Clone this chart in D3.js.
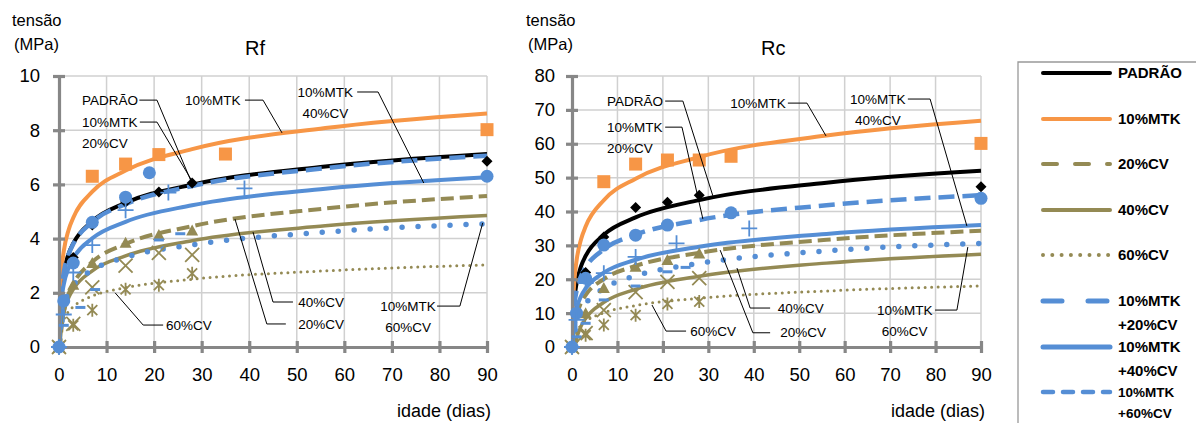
<!DOCTYPE html>
<html>
<head>
<meta charset="utf-8">
<script src="https://cdn.jsdelivr.net/npm/d3@7/dist/d3.min.js"></script>
<style>
  body { margin: 0; background: #fff; }
  svg { display: block; font-family: "Liberation Sans", Arial, sans-serif; }
</style>
</head>
<body>
<script>
// series, in legend order
const seriesNames = ["PADRÃO", "10%MTK", "20%CV", "40%CV", "60%CV", "10%MTK +20%CV", "10%MTK +40%CV", "10%MTK +60%CV"];

const dayTicks = [0, 10, 20, 30, 40, 50, 60, 70, 80, 90];
const rfTicks = [0, 2, 4, 6, 8, 10];
const rcTicks = [0, 10, 20, 30, 40, 50, 60, 70, 80];

// measured points [day, MPa]
const rfPoints = [
  [[0, 0], [3, 3.3], [7, 4.5], [14, 5.35], [21, 5.72], [28, 6.05], [90, 6.85]],
  [[7, 6.3], [14, 6.75], [21, 7.1], [35, 7.12], [90, 8.02]],
  [[0, 0], [3, 2.3], [7, 3.1], [14, 3.85], [21, 4.13], [28, 4.3]],
  [[0, 0], [3, 0.85], [7, 2.2], [14, 3.0], [21, 3.47], [28, 3.4]],
  [[0, 0], [3, 0.8], [7, 1.36], [14, 2.13], [21, 2.28], [28, 2.72]],
  [[0, 0], [1, 1.7], [3, 3.1], [7, 4.6], [14, 5.53], [19, 6.43], [90, 6.3]],
  [[0, 0], [1, 1.2], [3, 2.75], [7, 3.76], [14, 5.05], [23, 5.7], [39, 5.85]],
  [[0, 0], [1, 0.8], [4.5, 1.46], [7.6, 2.12], [21, 3.95], [25.5, 4.18]]
];
const rcPoints = [
  [[0, 0], [3, 22], [7, 32.5], [14, 41.2], [21, 42.7], [28, 44.8], [90, 47.3]],
  [[7, 48.8], [14, 54], [21, 55.2], [28, 55.2], [35, 56.3], [90, 60.1]],
  [[0, 0], [3, 10], [7, 17.4], [14, 23.7], [21, 25.7], [28, 27.6]],
  [[0, 0], [3, 4.1], [7, 10.9], [14, 16.2], [21, 19.2], [28, 20.3]],
  [[0, 0], [3, 3.5], [7, 6.5], [14, 9.4], [21, 12.7], [28, 13.4]],
  [[0, 0], [1, 10], [3, 20.3], [7, 30.1], [14, 33], [21, 36], [35, 39.6], [90, 43.9]],
  [[0, 0], [1, 8], [3, 18.9], [7, 21.8], [14, 26.6], [23, 30.6], [39, 35]],
  [[0, 0], [1, 3], [3, 7], [7, 13.9], [14, 18], [21, 22.2], [25, 23.5]]
];

// trendline values read at these days
const trendDays = [0.05, 0.2, 0.5, 1, 2, 3, 7, 14, 28, 56, 90];
const rfTrend = [
  [-0.16, 1.19, 2.08, 2.76, 3.43, 3.82, 4.64, 5.32, 5.99, 6.66, 7.12],
  [0.14, 1.71, 2.75, 3.53, 4.31, 4.77, 5.73, 6.51, 7.30, 8.08, 8.62],
  [-1.56, -0.24, 0.63, 1.29, 1.95, 2.33, 3.14, 3.80, 4.46, 5.11, 5.57],
  [-1.15, -0.04, 0.70, 1.25, 1.80, 2.13, 2.81, 3.36, 3.92, 4.47, 4.85],
  [-0.35, 0.28, 0.69, 1.0, 1.31, 1.49, 1.88, 2.19, 2.50, 2.81, 3.03],
  [-0.14, 1.19, 2.07, 2.74, 3.41, 3.80, 4.61, 5.27, 5.94, 6.60, 7.06],
  [-0.34, 0.88, 1.69, 2.30, 2.91, 3.27, 4.01, 4.62, 5.23, 5.84, 6.26],
  [-0.47, 0.46, 1.08, 1.54, 2.00, 2.28, 2.84, 3.31, 3.77, 4.24, 4.55]
];
const rcTrend = [
  [-3.42, 6.85, 13.63, 18.75, 23.87, 26.87, 33.13, 38.25, 43.37, 48.49, 52.01],
  [-2.12, 10.65, 19.08, 25.45, 31.82, 35.55, 43.33, 49.70, 56.07, 62.44, 66.81],
  [-7.54, 0.22, 5.33, 9.2, 13.07, 15.33, 20.06, 23.93, 27.79, 31.66, 34.31],
  [-14.44, -6.68, -1.57, 2.3, 6.17, 8.43, 13.16, 17.03, 20.89, 24.76, 27.41],
  [-5.17, -0.87, 1.96, 4.1, 6.24, 7.50, 10.11, 12.25, 14.40, 16.54, 18.01],
  [-2.21, 6.51, 12.25, 16.6, 20.95, 23.49, 28.80, 33.15, 37.49, 41.84, 44.82],
  [-5.25, 2.39, 7.44, 11.25, 15.06, 17.29, 21.95, 25.76, 29.58, 33.39, 36.0],
  [-9.07, -1.66, 3.23, 6.92, 10.61, 12.78, 17.29, 20.99, 24.68, 28.37, 30.6]
];

const olive = "#948A54", blue = "#558ED5", orange = "#F79646";
const styles = [
  {color: "#000", width: 4, marker: "diamond"},
  {color: orange, width: 4, marker: "square"},
  {color: olive, width: 4, dash: "13,6", legendDash: "14,18", marker: "triangle"},
  {color: olive, width: 3.5, marker: "x"},
  {color: olive, width: 3, dash: "0,6.5", cap: "round", legendDash: "0,9.3", marker: "asterisk"},
  {color: blue, width: 4.5, dash: "16,8", legendDash: "19,26", legendWidth: 5, marker: "circle"},
  {color: blue, width: 4, legendWidth: 5, marker: "plus"},
  {color: blue, width: 5.5, dash: "0,16", cap: "round", legendDash: "10,10", legendWidth: 4.5, marker: "dash"}
];

const markerPaths = {
  diamond: "M0,-5.5L5.5,0L0,5.5L-5.5,0Z",
  square: "M-6.5,-6.5h13v13h-13Z",
  triangle: "M0,-6L6,5L-6,5Z",
  plus: "M-8,0H8M0,-8V8",
  x: "M-7,-7L7,7M-7,7L7,-7",
  asterisk: "M-5,-5L5,5M-5,5L5,-5M0,-6.5V6.5",
  dash: "M-5,0H5"
};

const svg = d3.select("body").append("svg")
  .attr("width", 1196)
  .attr("height", 423);

function drawChart(cfg) {
  const x = d3.scaleLinear().domain([0, 90]).range([cfg.x0, cfg.x1]);
  const y = d3.scaleLinear().domain([0, cfg.ticks[cfg.ticks.length - 1]]).range([347, 76]);
  const g = svg.append("g");

  // grid
  g.selectAll(".vg").data(dayTicks.slice(1)).join("line")
    .attr("x1", d => x(d)).attr("x2", d => x(d))
    .attr("y1", y.range()[0]).attr("y2", y.range()[1])
    .attr("stroke", "#d0d0d0").attr("stroke-width", 1.5);
  g.selectAll(".hg").data(cfg.ticks.slice(1)).join("line")
    .attr("x1", cfg.x0).attr("x2", cfg.x1)
    .attr("y1", d => y(d)).attr("y2", d => y(d))
    .attr("stroke", "#d0d0d0").attr("stroke-width", 1.5);

  // trendlines
  const clipId = "clip" + cfg.id;
  svg.append("clipPath").attr("id", clipId).append("rect")
    .attr("x", cfg.x0).attr("y", 70).attr("width", cfg.x1 - cfg.x0 + 4).attr("height", 347 - 70);
  const line = d3.line().x(d => x(d[0])).y(d => y(d[1])).curve(d3.curveMonotoneX);
  g.append("g").attr("clip-path", `url(#${clipId})`)
    .selectAll("path").data(cfg.trend).join("path")
    .attr("d", vals => line(vals.map((v, i) => [trendDays[i], v])))
    .attr("fill", "none")
    .attr("stroke", (d, i) => styles[i].color)
    .attr("stroke-width", (d, i) => styles[i].width)
    .attr("stroke-dasharray", (d, i) => styles[i].dash || null)
    .attr("stroke-linecap", (d, i) => styles[i].cap || "butt");

  // axes
  const yAxis = g.append("g")
    .attr("transform", `translate(${cfg.x0},0)`)
    .call(d3.axisLeft(y).tickValues(cfg.ticks).tickSize(6).tickSizeOuter(0).tickPadding(cfg.yPad));
  const xAxis = g.append("g")
    .attr("transform", "translate(0,347)")
    .call(d3.axisBottom(x).tickValues(dayTicks).tickSize(6).tickSizeOuter(0).tickPadding(15));
  [xAxis, yAxis].forEach(a => {
    a.select(".domain").attr("stroke", "#878787").attr("stroke-width", 3.2);
    a.selectAll(".tick line").attr("stroke", "#878787").attr("stroke-width", 3.2);
    a.selectAll("text").attr("font-size", 18.5).attr("fill", "#000")
      .attr("font-family", "Liberation Sans, Arial, sans-serif");
  });
  yAxis.selectAll(".tick line").attr("x1", 6);
  xAxis.selectAll(".tick line").attr("y1", -6);

  // markers
  cfg.points.forEach((pts, i) => {
    const s = styles[i];
    const sel = g.append("g").selectAll("path").data(pts).join(s.marker === "circle" ? "circle" : "path");
    if (s.marker === "circle") {
      sel.attr("cx", d => x(d[0])).attr("cy", d => y(d[1])).attr("r", 6.5).attr("fill", s.color);
    } else {
      const stroked = ["plus", "x", "asterisk", "dash"].includes(s.marker);
      sel.attr("d", markerPaths[s.marker])
        .attr("transform", d => `translate(${x(d[0])},${y(d[1])})`)
        .attr("fill", stroked ? "none" : s.color)
        .attr("stroke", stroked ? s.color : "none")
        .attr("stroke-width", s.marker === "dash" ? 3 : 1.8);
    }
  });

  // callouts
  const leader = d3.line().x(d => x(d[0])).y(d => y(d[1]));
  cfg.notes.forEach(n => {
    g.append("path").attr("d", leader(n.path))
      .attr("fill", "none").attr("stroke", "#000").attr("stroke-width", 1);
    const t = g.append("text")
      .attr("x", x(n.at[0])).attr("y", y(n.at[1]))
      .attr("text-anchor", n.anchor)
      .attr("font-size", 13.5);
    n.text.forEach((s, k) => {
      t.append("tspan").attr("x", x(n.at[0])).attr("dy", k === 0 ? "0.35em" : 21).text(s);
    });
  });

  // titles
  svg.append("text").attr("x", cfg.titleX).attr("y", 55).attr("font-size", 20).text(cfg.title);
  svg.append("text").attr("x", cfg.yLabelX).attr("y", 26).attr("font-size", 16.5).text("tensão");
  svg.append("text").attr("x", cfg.yLabelX + 2).attr("y", 50).attr("font-size", 16.5).text("(MPa)");
  svg.append("text").attr("x", cfg.x1 + 4).attr("y", 417).attr("text-anchor", "end")
    .attr("font-size", 18).text("idade (dias)");
}

drawChart({
  id: "rf", x0: 59, x1: 487, ticks: rfTicks, yPad: 13, title: "Rf", titleX: 245, yLabelX: 12,
  trend: rfTrend, points: rfPoints,
  notes: [
    {text: ["PADRÃO"], at: [4.84, 9.11], anchor: "start", path: [[16.9, 9.11], [20.6, 9.11], [28, 6.02]]},
    {text: ["10%MTK", "20%CV"], at: [4.84, 8.30], anchor: "start", path: [[17.0, 8.30], [20.6, 8.30], [28.6, 5.94]]},
    {text: ["10%MTK"], at: [26.5, 9.11], anchor: "start", path: [[39.1, 9.11], [42.9, 9.11], [46.9, 7.90]]},
    {text: ["10%MTK", "40%CV"], at: [56.0, 9.41], anchor: "middle", path: [[62.7, 9.41], [67.1, 9.41], [76.7, 6.05]]},
    {text: ["40%CV"], at: [50.3, 1.66], anchor: "start", path: [[40.8, 4.24], [45.0, 1.66], [49.2, 1.66]]},
    {text: ["20%CV"], at: [50.3, 0.85], anchor: "start", path: [[37.0, 4.72], [43.7, 0.85], [47.7, 0.85]]},
    {text: ["60%CV"], at: [22.5, 0.81], anchor: "start", path: [[11.8, 2.0], [17.7, 0.81], [21.9, 0.81]]},
    {text: ["10%MTK", "60%CV"], at: [73.4, 1.51], anchor: "middle", path: [[79.5, 1.51], [84.3, 1.51], [89.1, 4.58]]}
  ]
});

drawChart({
  id: "rc", x0: 572, x1: 981, ticks: rcTicks, yPad: 11, title: "Rc", titleX: 761, yLabelX: 526,
  trend: rcTrend, points: rcPoints,
  notes: [
    {text: ["PADRÃO"], at: [7.7, 72.6], anchor: "start", path: [[20.5, 72.6], [24.4, 72.6], [31.0, 44.6]]},
    {text: ["10%MTK", "20%CV"], at: [7.7, 64.9], anchor: "start", path: [[20.5, 64.9], [24.2, 64.9], [28.8, 37.8]]},
    {text: ["10%MTK"], at: [34.8, 72.0], anchor: "start", path: [[47.5, 72.0], [51.7, 72.0], [55.9, 62.3]]},
    {text: ["10%MTK", "40%CV"], at: [67.3, 73.2], anchor: "middle", path: [[73.9, 73.2], [78.8, 73.2], [86.9, 35.7]]},
    {text: ["40%CV"], at: [45.3, 11.5], anchor: "start", path: [[36.3, 23.3], [39.2, 11.5], [43.6, 11.5]]},
    {text: ["20%CV"], at: [45.8, 4.2], anchor: "start", path: [[32.6, 28.6], [39.8, 4.2], [43.6, 4.2]]},
    {text: ["60%CV"], at: [26.0, 4.7], anchor: "start", path: [[17.6, 12.4], [20.7, 4.7], [25.1, 4.7]]},
    {text: ["10%MTK", "60%CV"], at: [73.2, 10.9], anchor: "middle", path: [[79.9, 10.9], [84.7, 10.9], [87.1, 29.5]]}
  ]
});

// legend
const legendY = [73, 119, 164, 210, 255, 301, 347, 392];
const lg = svg.append("g");
lg.append("path").attr("d", "M1018,430V62H1200")
  .attr("fill", "none").attr("stroke", "#999").attr("stroke-width", 1.3);
seriesNames.forEach((name, i) => {
  const s = styles[i];
  lg.append("line")
    .attr("x1", 1043).attr("x2", 1110).attr("y1", legendY[i]).attr("y2", legendY[i])
    .attr("stroke", s.color).attr("stroke-width", s.legendWidth || 4)
    .attr("stroke-linecap", "round")
    .attr("stroke-dasharray", s.legendDash || null);
  const parts = name.split(" ");
  const t = lg.append("text").attr("x", 1118).attr("y", legendY[i])
    .attr("font-weight", "bold").attr("font-size", i === 7 ? 13.5 : 15);
  parts.forEach((p, k) => {
    t.append("tspan").attr("x", 1118).attr("dy", k === 0 ? "0.35em" : (i === 7 ? 21 : 23.5)).text(p);
  });
});
</script>
</body>
</html>
